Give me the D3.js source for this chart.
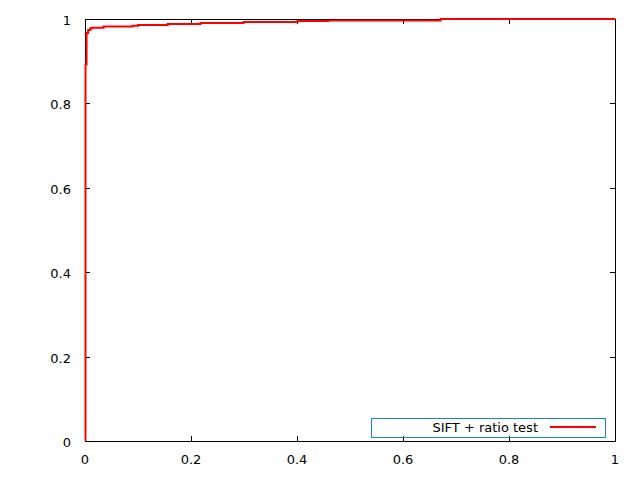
<!DOCTYPE html>
<html>
<head>
<meta charset="utf-8">
<script src="https://cdn.jsdelivr.net/npm/d3@7"></script>
<style>
  body { margin: 0; background: #fff; }
  text { font-family: "DejaVu Sans", sans-serif; font-size: 13px; fill: #000; }
</style>
</head>
<body>
<script>
// ROC curve (false positive rate, true positive rate)
const fpr = [0, 0, 0.002, 0.005, 0.009, 0.0126, 0.034, 0.089, 0.099, 0.155, 0.217, 0.298, 0.400, 0.458, 0.670, 1]
const tpr = [0, 0.892, 0.967, 0.974, 0.978, 0.979, 0.982, 0.984, 0.986, 0.988, 0.9905, 0.993, 0.995, 0.9965, 1, 1]
const xTicks = [0, 0.2, 0.4, 0.6, 0.8, 1]
const yTicks = [0, 0.2, 0.4, 0.6, 0.8, 1]
const seriesName = "SIFT + ratio test"

const width = 640
const height = 480
const margin = { top: 19, right: 25, bottom: 39, left: 85 }

const svg = d3.select("body").append("svg")
    .attr("width", width)
    .attr("height", height)

const x = d3.scaleLinear().domain([0, 1]).range([margin.left, width - margin.right])
const y = d3.scaleLinear().domain([0, 1]).range([height - margin.bottom, margin.top])

const tickLen = 5

// gnuplot style: ticks inside, mirrored on all four sides
const g = svg.append("g").attr("shape-rendering", "crispEdges")

xTicks.forEach(t => {
    g.append("line").attr("x1", Math.round(x(t)) + 0.5).attr("x2", Math.round(x(t)) + 0.5)
        .attr("y1", y(0)).attr("y2", y(0) - tickLen).attr("stroke", "#000")
    g.append("line").attr("x1", Math.round(x(t)) + 0.5).attr("x2", Math.round(x(t)) + 0.5)
        .attr("y1", y(1)).attr("y2", y(1) + tickLen).attr("stroke", "#000")
    svg.append("text")
        .attr("x", x(t))
        .attr("y", y(0) + 18)
        .attr("dominant-baseline", "central")
        .attr("text-anchor", "middle")
        .text(d3.format("~g")(t))
})

yTicks.forEach(t => {
    g.append("line").attr("x1", x(0)).attr("x2", x(0) + tickLen)
        .attr("y1", Math.round(y(t)) + 0.5).attr("y2", Math.round(y(t)) + 0.5).attr("stroke", "#000")
    g.append("line").attr("x1", x(1)).attr("x2", x(1) - tickLen)
        .attr("y1", Math.round(y(t)) + 0.5).attr("y2", Math.round(y(t)) + 0.5).attr("stroke", "#000")
    svg.append("text")
        .attr("x", x(0) - 14)
        .attr("y", y(t) + 1.5)
        .attr("dominant-baseline", "central")
        .attr("text-anchor", "end")
        .text(d3.format("~g")(t))
})

// frame
g.append("rect")
    .attr("x", x(0) + 0.5)
    .attr("y", y(1) + 0.5)
    .attr("width", x(1) - x(0))
    .attr("height", y(0) - y(1))
    .attr("fill", "none")
    .attr("stroke", "#000")

// the curve
const points = fpr.map((d, i) => [d, tpr[i]])
const line = d3.line()
    .x(d => x(d[0]) + 0.5)
    .y(d => y(d[1]))
    .curve(d3.curveStepAfter)

svg.append("path")
    .datum(points)
    .attr("d", line)
    .attr("fill", "none")
    .attr("stroke", "#f00")
    .attr("stroke-width", 2)

// legend
const key = svg.append("g")
key.append("rect")
    .attr("x", 371.5).attr("y", 418.5)
    .attr("width", 234).attr("height", 19)
    .attr("fill", "none")
    .attr("stroke", "#1f7fe0")
    .attr("shape-rendering", "crispEdges")
key.append("text")
    .attr("x", 538)
    .attr("y", 427.5)
    .attr("dominant-baseline", "central")
    .attr("text-anchor", "end")
    .attr("font-size", "14px")
    .text(seriesName)
key.append("line")
    .attr("x1", 550).attr("x2", 596)
    .attr("y1", 427).attr("y2", 427)
    .attr("stroke", "#f00")
    .attr("stroke-width", 2)
</script>
</body>
</html>
